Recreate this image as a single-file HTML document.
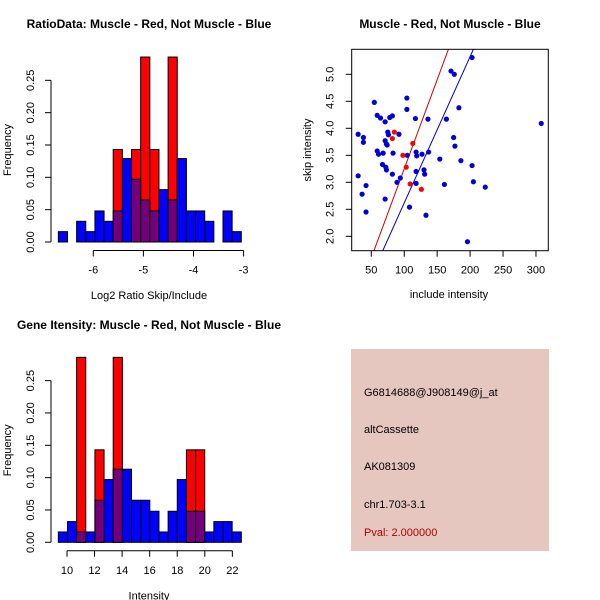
<!DOCTYPE html>
<html><head><meta charset="utf-8"><style>
body{margin:0;background:#fff}
svg{display:block;font-family:"Liberation Sans",sans-serif}
</style></head><body>
<svg id="c" width="600" height="600" viewBox="0 0 600 600"></svg>
<script>
// Histogram 1: log2 ratio
const ratioStart = -6.698, ratioBinWidth = 0.1826;
const ratioBlue = [0.016,0,0.032,0.016,0.048,0.032,0.048,0.129,0.097,0.065,0.048,0.081,0.065,0.129,0.048,0.048,0.032,0,0.048,0.016];
const ratioRed  = [0,0,0,0,0,0,0.143,0,0.143,0.286,0.143,0,0.286,0,0,0,0,0,0,0];
const ratioXTicks = [-6,-5,-4,-3];
// Histogram 2: intensity
const intStart = 9.37, intBinWidth = 0.664;
const intBlue = [0.016,0.032,0.016,0.016,0.065,0.097,0.113,0.113,0.065,0.065,0.048,0.016,0.048,0.097,0.048,0.048,0.016,0.032,0.032,0.016];
const intRed  = [0,0,0.286,0,0.143,0,0.286,0,0,0,0,0,0,0,0.143,0.143,0,0,0,0];
const intXTicks = [10,12,14,16,18,20,22];
const freqTicks = [0,0.05,0.10,0.15,0.20,0.25];
const freqLabels = ["0.00","0.05","0.10","0.15","0.20","0.25"];
// Scatter
const blueX = [54.6,59,64,78,82,71,30,38,38,30,36,42,42,59,61,68,75,76,71,73,74,83,92,67,72,73,82,94,89,71,104,104,104.6,117,118,119,118,118,108,127,130,131,137,136,133,154,164,161,171,176,183,175,177,186,203,203,205,223,196,308];
const blueY = [4.48,4.24,4.19,4.20,4.23,4.12,3.89,3.83,3.74,3.12,2.78,2.94,2.45,3.58,3.52,3.54,3.93,3.88,3.77,3.71,3.69,3.54,3.89,3.33,3.28,3.23,3.15,3.08,3.00,2.69,4.56,4.35,3.5,4.18,3.56,3.49,3.20,2.98,2.54,3.52,3.23,3.15,3.56,4.17,2.39,3.43,4.17,2.96,5.06,5.0,4.38,3.83,3.67,3.40,5.31,3.31,3.01,2.91,1.9,4.09];
const redX = [85,82,98,113,103,109,126];
const redY = [3.93,3.81,3.5,3.72,3.28,2.97,2.87];
const redLine = [-0.05,0.033];   // intercept, slope
const blueLine = [-0.092,0.0271];
const scX = [50,100,150,200,250,300];
const scY = [2.0,2.5,3.0,3.5,4.0,4.5,5.0];

const NS="http://www.w3.org/2000/svg", svg=document.getElementById('c');
function el(t,a,p){const e=document.createElementNS(NS,t);for(const k in a)e.setAttribute(k,a[k]);(p||svg).appendChild(e);return e;}
function txt(s,x,y,a,p){const e=el('text',Object.assign({x:x,y:y,'font-size':11,'text-anchor':'middle',fill:'#000'},a||{}),p);e.textContent=s;return e;}

function hist(name,y0,start,bw,blue,red,xticks,xmap,title,xlabel,ty){
  const g=el('g',{});
  
  
  const fy=v=>y0-v*646.7;
  const w=xmap(start+bw)-xmap(start);
  red.forEach((v,i)=>{if(v>0){const r=el('rect',{x:xmap(start+i*bw),y:fy(v),width:w,height:v*646.7,fill:'#ff0000',stroke:'#000','stroke-width':1},g);
    }});
  blue.forEach((v,i)=>{if(v>0){const c=red[i]>0?'#73007a':'#0000ff';const r=el('rect',{x:xmap(start+i*bw),y:fy(v),width:w,height:v*646.7,fill:c,stroke:'#000','stroke-width':1},g);
    }});
  const ya=el('g',{},g);
  el('line',{x1:51,x2:51,y1:fy(0),y2:fy(0.25),stroke:'#000'},ya);
  freqTicks.forEach((v,i)=>{el('line',{x1:45,x2:51,y1:fy(v),y2:fy(v),stroke:'#000'},ya);
    txt(freqLabels[i],34,fy(v),{transform:`rotate(-90 34 ${fy(v)})`},ya);});
  const xa=el('g',{},g);
  const ay=y0+8.5;
  el('line',{x1:xmap(xticks[0]),x2:xmap(xticks[xticks.length-1]),y1:ay,y2:ay,stroke:'#000'},xa);
  xticks.forEach(v=>{el('line',{x1:xmap(v),x2:xmap(v),y1:ay,y2:ay+6,stroke:'#000'},xa);txt(String(v),xmap(v),ay+23,{},xa);});
  const t=txt(title,149,ty,{'font-weight':'bold','font-size':12},g);
  
  const xl=txt(xlabel,149,y0+57,{'font-size':11},g);
  
  const yl=txt('Frequency',11,y0-92,{transform:`rotate(-90 11 ${y0-92})`},g);
  
}
hist('ratio-histogram',242,ratioStart,ratioBinWidth,ratioBlue,ratioRed,ratioXTicks,v=>93.3+(v+6)*50.1,'RatioData: Muscle - Red, Not Muscle - Blue','Log2 Ratio Skip/Include',28);
hist('intensity-histogram',542.3,intStart,intBinWidth,intBlue,intRed,intXTicks,v=>67+(v-10)*13.78,'Gene Itensity: Muscle - Red, Not Muscle - Blue','Intensity',329);

// Scatter
const sg=el('g',{});


const L=351.7,R=548.3,T=49.3,B=250.7;
const sx=v=>371.3+(v-50)*0.6587, sy=v=>236.3-(v-2)*54;
const cp=el('clipPath',{id:'cp'},sg);el('rect',{x:L,y:T,width:R-L,height:B-T},cp);
[[redLine,'#d00000','red-fit-line'],[blueLine,'#0000c0','blue-fit-line']].forEach(([ln,c,n])=>{
  const x1=0,x2=400;const l=el('line',{x1:sx(x1),y1:sy(ln[0]+ln[1]*x1),x2:sx(x2),y2:sy(ln[0]+ln[1]*x2),stroke:c,'clip-path':'url(#cp)'},sg);
  });
blueX.forEach((v,i)=>{const p=el('circle',{cx:sx(v),cy:sy(blueY[i]),r:2.6,fill:'#0000dd'},sg);
  });
redX.forEach((v,i)=>{const p=el('circle',{cx:sx(v),cy:sy(redY[i]),r:2.6,fill:'#ff0000'},sg);
  });
el('rect',{x:L,y:T,width:R-L,height:B-T,fill:'none',stroke:'#000'},sg);
scX.forEach(v=>{el('line',{x1:sx(v),x2:sx(v),y1:B,y2:B+6,stroke:'#000'},sg);txt(String(v),sx(v),B+23,{},sg);});
scY.forEach(v=>{el('line',{x1:L-6,x2:L,y1:sy(v),y2:sy(v),stroke:'#000'},sg);txt(v.toFixed(1),L-18,sy(v),{transform:`rotate(-90 ${L-18} ${sy(v)})`},sg);});
const st=txt('Muscle - Red, Not Muscle - Blue',450,28,{'font-weight':'bold','font-size':12},sg);

const sxl=txt('include intensity',449,298,{},sg);

const syl=txt('skip intensity',311,150,{transform:'rotate(-90 311 150)'},sg);

</script>
<svg style="position:absolute;left:0;top:0" width="600" height="600">
<g font-family="Liberation Sans, sans-serif" font-size="11">
<rect x="351" y="349" width="198" height="202" fill="#e5c7c0"/>
<text x="364" y="396">G6814688@J908149@j_at</text>
<text x="364" y="433">altCassette</text>
<text x="364" y="470">AK081309</text>
<text x="364" y="508">chr1.703-3.1</text>
<text x="364" y="536" fill="#b00000">Pval: 2.000000</text>
</g></svg>
</body></html>
